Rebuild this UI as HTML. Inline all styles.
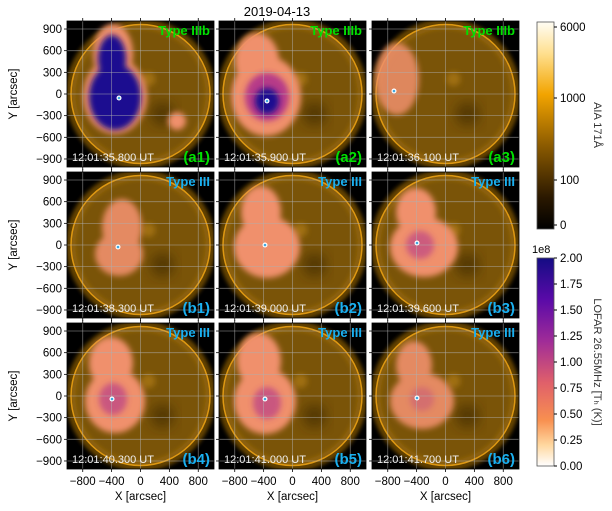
<!DOCTYPE html>
<html><head><meta charset="utf-8">
<style>
body{margin:0;background:#fff;width:612px;height:511px;overflow:hidden}
svg{display:block;font-family:"Liberation Sans","DejaVu Sans",sans-serif}
</style></head><body>
<svg id="s" width="612" height="511" xmlns="http://www.w3.org/2000/svg">
<defs>
<filter id="bl" x="-30%" y="-30%" width="160%" height="160%"><feGaussianBlur stdDeviation="3"/></filter>
<filter id="bl2" x="-30%" y="-30%" width="160%" height="160%"><feGaussianBlur stdDeviation="6"/></filter>
<filter id="bl1" x="-10%" y="-10%" width="120%" height="120%"><feGaussianBlur stdDeviation="2"/></filter>
<linearGradient id="aia" x1="0" y1="0" x2="0" y2="1">
<stop offset="0" stop-color="#fffdf4"/>
<stop offset="0.15" stop-color="#ffe090"/>
<stop offset="0.35" stop-color="#f2a400"/>
<stop offset="0.6" stop-color="#8a5a00"/>
<stop offset="0.85" stop-color="#2a1800"/>
<stop offset="1" stop-color="#000"/>
</linearGradient>
<linearGradient id="lof" x1="0" y1="0" x2="0" y2="1">
<stop offset="0" stop-color="#140c84"/>
<stop offset="0.2" stop-color="#5a0aa8"/>
<stop offset="0.4" stop-color="#a02c98"/>
<stop offset="0.6" stop-color="#e0606a"/>
<stop offset="0.78" stop-color="#f89050"/>
<stop offset="0.9" stop-color="#ffd8a0"/>
<stop offset="1" stop-color="#ffffff"/>
</linearGradient>
</defs>
<text x="277" y="16" font-size="13" text-anchor="middle">2019-04-13</text>
</svg>
<script>
const s=document.getElementById('s');const NS='http://www.w3.org/2000/svg';
function el(t,a,p){const e=document.createElementNS(NS,t);for(const k in a)e.setAttribute(k,a[k]);(p||s).appendChild(e);return e;}
function tx(x,y,str,a,p){const e=el('text',Object.assign({x:x,y:y},a),p);e.textContent=str;return e;}
const cols=[67,219,372],rows=[21,172,323],W=147,H=146,k=0.0722;
const P='#f0906c',PU='#b0308c',BL='#1a0890';
const specs=[
 {lab:'(a1)',t:'12:01:35.800 UT',ty:'Type IIIb',c:'#00e000',
  b:[[P,[[46,33,20,30],[48,75,32,38],[110,100,9,9]],1],[BL,[[45,38,14,24],[48,76,26,33]],1]],m:[52,77]},
 {lab:'(a2)',t:'12:01:35.900 UT',ty:'Type IIIb',c:'#00e000',
  b:[[P,[[38,40,22,28],[47,75,35,40]],1],[PU,[[48,76,22,24]],0.9],[BL,[[48,80,12,13]],1]],m:[48,80]},
 {lab:'(a3)',t:'12:01:36.100 UT',ty:'Type IIIb',c:'#00e000',
  b:[[P,[[25,58,22,36]],0.85]],m:[22,70]},
 {lab:'(b1)',t:'12:01:38.300 UT',ty:'Type III',c:'#1ab0f0',
  b:[[P,[[55,55,20,28],[52,82,24,22]],0.9]],m:[51,75]},
 {lab:'(b2)',t:'12:01:39.000 UT',ty:'Type III',c:'#1ab0f0',
  b:[[P,[[42,40,20,26],[48,75,33,31]],1]],m:[46,73]},
 {lab:'(b3)',t:'12:01:39.600 UT',ty:'Type III',c:'#1ab0f0',
  b:[[P,[[44,40,20,24],[52,75,34,30]],1],[PU,[[48,73,14,14]],0.55]],m:[45,71]},
 {lab:'(b4)',t:'12:01:40.300 UT',ty:'Type III',c:'#1ab0f0',
  b:[[P,[[44,40,22,26],[48,78,30,32]],1],[PU,[[46,76,14,16]],0.6]],m:[45,76]},
 {lab:'(b5)',t:'12:01:41.000 UT',ty:'Type III',c:'#1ab0f0',
  b:[[P,[[40,38,22,28],[46,78,31,33]],1],[PU,[[48,80,14,16]],0.6]],m:[46,76]},
 {lab:'(b6)',t:'12:01:41.700 UT',ty:'Type III',c:'#1ab0f0',
  b:[[P,[[42,42,18,24],[50,78,32,28]],0.9],[PU,[[50,76,12,12]],0.3]],m:[45,75]}
];
specs.forEach((sp,i)=>{
 const X=cols[i%3],Y=rows[Math.floor(i/3)];
 const g=el('g',{transform:`translate(${X},${Y})`});
 const cid='c'+i;const cp=el('clipPath',{id:cid},s.querySelector('defs'));el('rect',{x:0,y:0,width:W,height:H},cp);
 const gg=el('g',{'clip-path':`url(#${cid})`},g);
 el('rect',{x:0,y:0,width:W,height:H,fill:'#000'},gg);
 const cx=73.5,cy=73;
 el('circle',{cx:cx,cy:cy,r:72,fill:'none',stroke:'#6a4600','stroke-width':6,filter:'url(#bl1)'},gg);
 el('circle',{cx:cx,cy:cy,r:70,fill:'#7a5408'},gg);
 el('circle',{cx:cx,cy:cy,r:67,fill:'none',stroke:'#94660a','stroke-width':4,filter:'url(#bl1)'},gg);
 el('circle',{cx:cx,cy:cy,r:69.5,fill:'none',stroke:'#e89e14','stroke-width':1.5,opacity:0.9},gg);
 el('circle',{cx:cx+8,cy:cy-15,r:7,fill:'#b07c18',opacity:0.7,filter:'url(#bl)'},gg);
 el('circle',{cx:cx+22,cy:cy+20,r:12,fill:'#3a2602',opacity:0.6,filter:'url(#bl2)'},gg);
 sp.b.forEach(([col,ells,op])=>{
  const bg=el('g',{filter:'url(#bl)',opacity:op},gg);
  ells.forEach(e=>el('ellipse',{cx:e[0],cy:e[1],rx:e[2],ry:e[3],fill:col},bg));
 });
 for(let v=-800;v<=800;v+=400){const x=cx+v*k;el('line',{x1:x,y1:0,x2:x,y2:H,stroke:'#b0b0b0','stroke-width':0.8,opacity:0.6},gg);}
 for(let v=-900;v<=900;v+=300){const y=cy-v*k;el('line',{x1:0,y1:y,x2:W,y2:y,stroke:'#b0b0b0','stroke-width':0.8,opacity:0.6},gg);}
 el('circle',{cx:sp.m[0],cy:sp.m[1],r:2.5,fill:'#fff'},gg);
 el('circle',{cx:sp.m[0],cy:sp.m[1],r:1.3,fill:'#40a8e0'},gg);
 tx(W-4,14,sp.ty,{fill:sp.c,'font-size':13,'font-weight':'bold','text-anchor':'end'},gg);
 tx(W-4,H-5,sp.lab,{fill:sp.c,'font-size':15,'font-weight':'bold','text-anchor':'end'},gg);
 tx(5,H-6,sp.t,{fill:'#f0f0f0','font-size':11},gg);
 el('rect',{x:0,y:0,width:W,height:H,fill:'none',stroke:'#000','stroke-width':0.8},g);
 for(let v=-800;v<=800;v+=400){const x=cx+v*k;el('line',{x1:x,y1:H,x2:x,y2:H+3,stroke:'#000','stroke-width':0.8},g);el('line',{x1:x,y1:0,x2:x,y2:-3,stroke:'#000','stroke-width':0.8},g);
  if(i>=6)tx(x,H+16,String(v).replace('-','\u2212'),{'font-size':11.5,'text-anchor':'middle'},g);}
 for(let v=-900;v<=900;v+=300){const y=cy-v*k;el('line',{x1:0,y1:y,x2:-3,y2:y,stroke:'#000','stroke-width':0.8},g);
  if(i%3==0)tx(-5,y+4,String(v).replace('-','\u2212'),{'font-size':11.5,'text-anchor':'end'},g);}
 if(i>=6)tx(cx,H+31,'X [arcsec]',{'font-size':11.5,'text-anchor':'middle'},g);
 if(i%3==0)tx(0,0,'Y [arcsec]',{'font-size':11.5,'text-anchor':'middle',transform:`translate(-50,${cy}) rotate(-90)`},g);
});
el('rect',{x:537,y:22,width:17,height:207,fill:'url(#aia)',stroke:'#555','stroke-width':0.8});
[[6000,27],[1000,98],[100,180],[0,225]].forEach(([v,y])=>{el('line',{x1:554,y1:y,x2:557,y2:y,stroke:'#000'});tx(560,y+4,String(v),{'font-size':11.5});});
tx(0,0,'AIA 171\u00c5',{'font-size':11,'text-anchor':'middle',transform:'translate(594,125) rotate(90)',fill:'#333'});
el('rect',{x:537,y:258,width:17,height:208,fill:'url(#lof)',stroke:'#555','stroke-width':0.8});
for(let j=0;j<=8;j++){const y=466-j*26;el('line',{x1:554,y1:y,x2:557,y2:y,stroke:'#000'});tx(560,y+4,(j*0.25).toFixed(2),{'font-size':11.5});}
tx(532,253,'1e8',{'font-size':11});
tx(0,0,'LOFAR 26.55MHz [T\u2095 (K)]',{'font-size':11,'text-anchor':'middle',transform:'translate(594,362) rotate(90)',fill:'#333'});
</script>
</body></html>
